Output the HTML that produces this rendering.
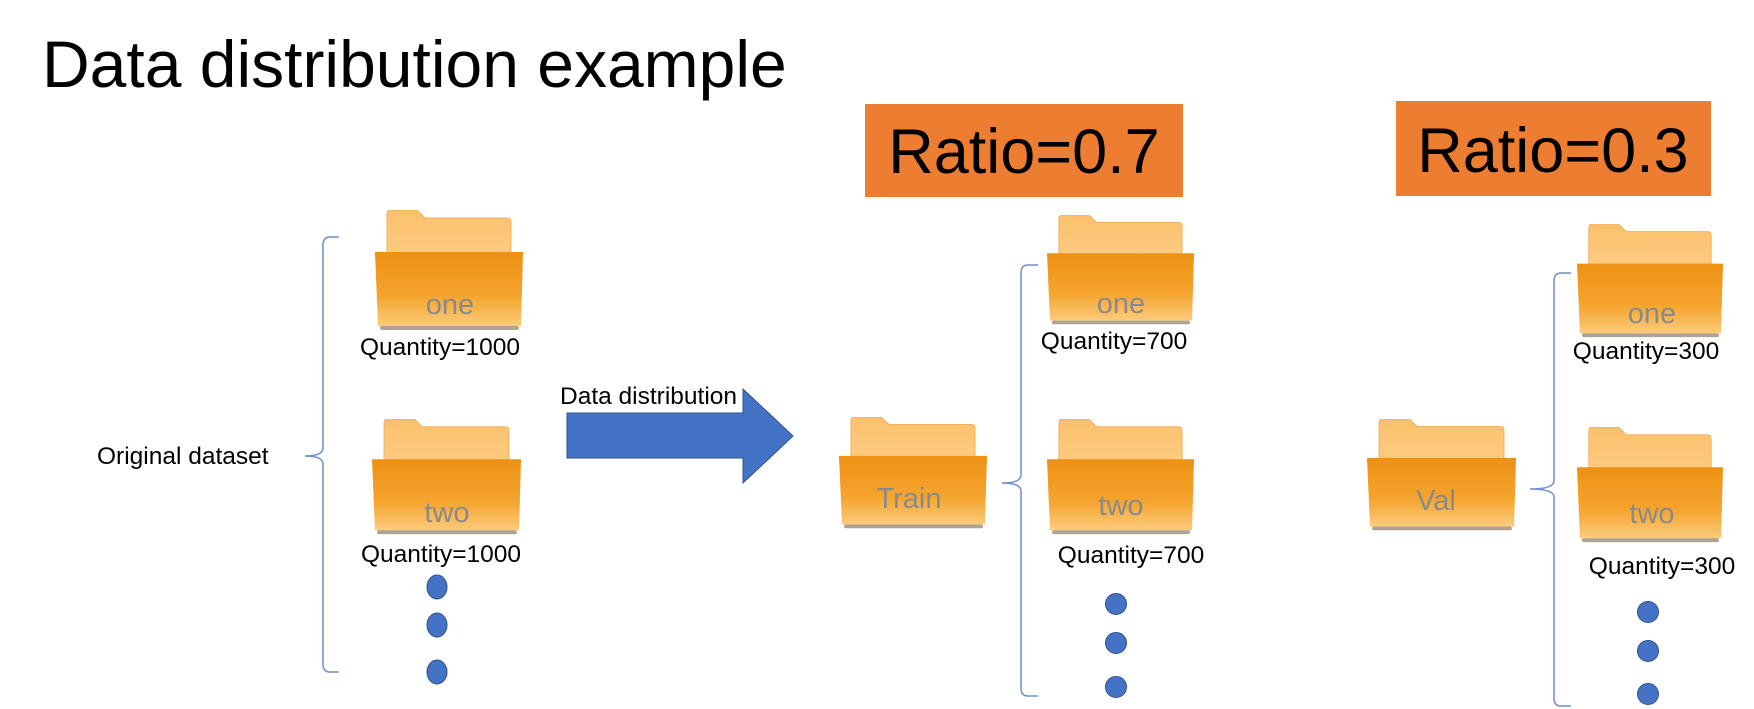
<!DOCTYPE html>
<html><head><meta charset="utf-8"><style>
html,body{margin:0;padding:0;background:#fff;width:1754px;height:709px;overflow:hidden}
svg{display:block;font-family:"Liberation Sans",Arial,sans-serif}
</style></head><body>
<svg width="1754" height="709" viewBox="0 0 1754 709" xmlns="http://www.w3.org/2000/svg">
<defs>
<linearGradient id="bg" x1="0" y1="0" x2="0" y2="1">
<stop offset="0" stop-color="#EE9014"/><stop offset="0.6" stop-color="#F5A42E"/><stop offset="1" stop-color="#FCCB7C"/>
</linearGradient>
<linearGradient id="tg" x1="0" y1="0" x2="0" y2="1">
<stop offset="0" stop-color="#FBC06C"/><stop offset="1" stop-color="#FDCB80"/>
</linearGradient>
<symbol id="f" viewBox="0 0 148 123" preserveAspectRatio="none">
<path d="M12 4 Q12 0 16 0 L42 0 L50 8 L132 8 Q136 8 136 12 L136 44 L12 44 Z" fill="url(#tg)" stroke="#F0B060" stroke-width="1"/>
<path d="M0 42 L148 42 L146 116 L3 116 Z" fill="url(#bg)"/>
<rect x="5" y="116" width="139" height="4" rx="2" fill="#8a7a6a" opacity="0.7"/>
</symbol>
</defs>

<text x="42" y="87" font-size="66" fill="#000">Data distribution example</text>

<rect x="865" y="104" width="318" height="93" fill="#ED7D31"/>
<text x="1024" y="173" font-size="63" text-anchor="middle" fill="#000">Ratio=0.7</text>
<rect x="1396" y="101" width="315" height="95" fill="#ED7D31"/>
<text x="1553" y="172" font-size="63" text-anchor="middle" fill="#000">Ratio=0.3</text>

<!-- left -->
<text x="97" y="464" font-size="24.5">Original dataset</text>
<path d="M339 237 L330 237 Q323 237 323 245 L323 448 Q323 456 305 456 Q323 456 323 464 L323 664 Q323 672 330 672 L339 672" fill="none" stroke="#6E8FC9" stroke-width="1.5"/>
<use href="#f" x="375" y="210" width="148" height="123"/>
<text x="450" y="314" font-size="29" fill="#8A8A8A" text-anchor="middle">one</text>
<text x="440" y="355" font-size="24.5" text-anchor="middle">Quantity=1000</text>
<use href="#f" x="372" y="419" width="149" height="118"/>
<text x="447" y="522" font-size="29" fill="#8A8A8A" text-anchor="middle">two</text>
<text x="441" y="562" font-size="24.5" text-anchor="middle">Quantity=1000</text>
<ellipse cx="437" cy="587" rx="10" ry="12" fill="#4472C4" stroke="#2F528F"/>
<ellipse cx="437" cy="625" rx="10" ry="12" fill="#4472C4" stroke="#2F528F"/>
<ellipse cx="437" cy="672" rx="10" ry="12" fill="#4472C4" stroke="#2F528F"/>

<!-- arrow -->
<text x="560" y="404" font-size="24.5">Data distribution</text>
<path d="M567 413 L743 413 L743 389 L793 436 L743 483 L743 458 L567 458 Z" fill="#4472C4" stroke="#2F528F" stroke-width="1"/>

<!-- train -->
<use href="#f" x="839" y="417" width="148" height="114"/>
<text x="909" y="508" font-size="29" fill="#8A8A8A" text-anchor="middle">Train</text>
<path d="M1038 265 L1028 265 Q1021 265 1021 273 L1021 475 Q1021 483 1002 483 Q1021 483 1021 491 L1021 688 Q1021 696 1028 696 L1038 696" fill="none" stroke="#6E8FC9" stroke-width="1.5"/>
<use href="#f" x="1047" y="215" width="147" height="112"/>
<text x="1121" y="313" font-size="29" fill="#8A8A8A" text-anchor="middle">one</text>
<text x="1114" y="349" font-size="24.5" text-anchor="middle">Quantity=700</text>
<use href="#f" x="1047" y="419" width="147" height="118"/>
<text x="1121" y="515" font-size="29" fill="#8A8A8A" text-anchor="middle">two</text>
<text x="1131" y="563" font-size="24.5" text-anchor="middle">Quantity=700</text>
<ellipse cx="1116" cy="604" rx="10.5" ry="10.5" fill="#4472C4" stroke="#2F528F"/>
<ellipse cx="1116" cy="643" rx="10.5" ry="10.5" fill="#4472C4" stroke="#2F528F"/>
<ellipse cx="1116" cy="687" rx="10.5" ry="10.5" fill="#4472C4" stroke="#2F528F"/>

<!-- val -->
<use href="#f" x="1367" y="419" width="149" height="114"/>
<text x="1436" y="510" font-size="29" fill="#8A8A8A" text-anchor="middle">Val</text>
<path d="M1571 273 L1561 273 Q1554 273 1554 281 L1554 481 Q1554 489 1530 489 Q1554 489 1554 497 L1554 698 Q1554 706 1561 706 L1571 706" fill="none" stroke="#6E8FC9" stroke-width="1.5"/>
<use href="#f" x="1577" y="224" width="146" height="116"/>
<text x="1652" y="323" font-size="29" fill="#8A8A8A" text-anchor="middle">one</text>
<text x="1646" y="359" font-size="24.5" text-anchor="middle">Quantity=300</text>
<use href="#f" x="1577" y="427" width="146" height="118"/>
<text x="1652" y="523" font-size="29" fill="#8A8A8A" text-anchor="middle">two</text>
<text x="1662" y="574" font-size="24.5" text-anchor="middle">Quantity=300</text>
<ellipse cx="1648" cy="612" rx="10.5" ry="10.5" fill="#4472C4" stroke="#2F528F"/>
<ellipse cx="1648" cy="651" rx="10.5" ry="10.5" fill="#4472C4" stroke="#2F528F"/>
<ellipse cx="1648" cy="694" rx="10.5" ry="10.5" fill="#4472C4" stroke="#2F528F"/>
</svg>
</body></html>
